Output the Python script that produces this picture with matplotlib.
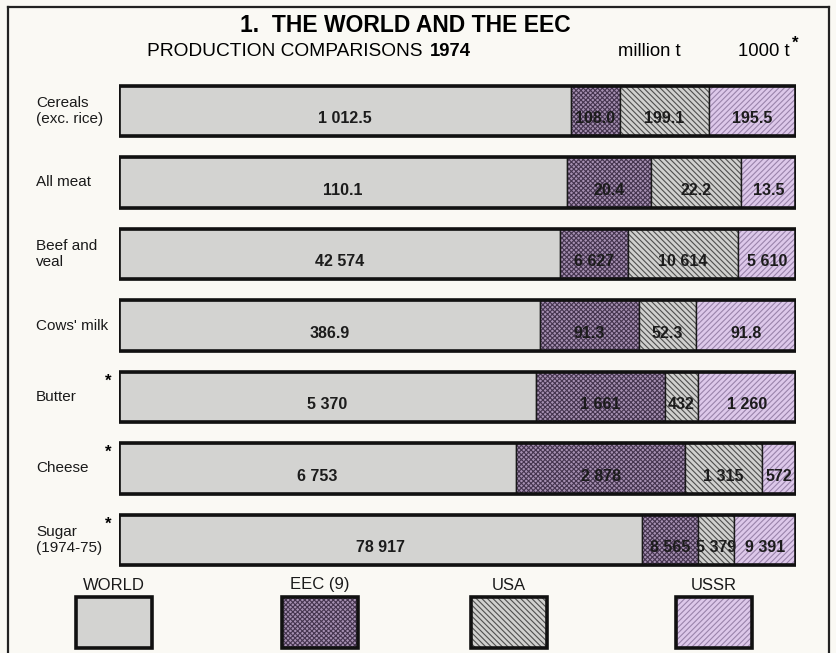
import matplotlib
matplotlib.use("Agg")
import matplotlib.pyplot as plt
from matplotlib.patches import Rectangle
from matplotlib.lines import Line2D
import numpy as np

# production 1974: cereals/meat/milk in million t, the starred rows in 1000 t
products = ["Cereals\n(exc. rice)", "All meat", "Beef and\nveal", "Cows' milk",
            "Butter", "Cheese", "Sugar\n(1974-75)"]
starred = [False, False, False, False, True, True, True]
world = [1012.5, 110.1, 42574, 386.9, 5370, 6753, 78917]
eec = [108.0, 20.4, 6627, 91.3, 1661, 2878, 8565]
usa = [199.1, 22.2, 10614, 52.3, 432, 1315, 5379]
ussr = [195.5, 13.5, 5610, 91.8, 1260, 572, 9391]

world_txt = ["1 012.5", "110.1", "42 574", "386.9", "5 370", "6 753", "78 917"]
eec_txt = ["108.0", "20.4", "6 627", "91.3", "1 661", "2 878", "8 565"]
usa_txt = ["199.1", "22.2", "10 614", "52.3", "432", "1 315", "5 379"]
ussr_txt = ["195.5", "13.5", "5 610", "91.8", "1 260", "572", "9 391"]

legend_names = ["WORLD", "EEC (9)", "USA", "USSR"]

# face colour, hatch colour, hatch pattern
styles = [
    ("#d3d3d1", "#d3d3d1", None),
    ("#a690b2", "#45354f", "xxxxxxx"),
    ("#d0d0ce", "#4f4f4f", "\\\\\\\\\\\\"),
    ("#ddc8ea", "#9a84ab", "//////"),
]

sans = dict(family=["Liberation Sans", "DejaVu Sans"])

plt.rcParams["hatch.linewidth"] = 0.8

W, H = 836, 653
fig = plt.figure(figsize=(W / 100, H / 100), dpi=100)
fig.patch.set_facecolor("#faf9f4")


def fx(px):
    return px / W


def fy(px):
    return 1 - px / H


# border of the panel
fig.add_artist(Line2D([fx(8), fx(8)], [fy(7), 0], color="#222", lw=1.6))
fig.add_artist(Line2D([fx(8), fx(829)], [fy(7), fy(7)], color="#222", lw=1.6))
fig.add_artist(Line2D([fx(829), fx(829)], [fy(7), 0], color="#222", lw=1.6))

fig.text(fx(405), fy(26), "1.  THE WORLD AND THE EEC", ha="center", va="center",
         fontsize=16.5, fontweight="bold", **sans)
fig.text(fx(147), fy(51), "PRODUCTION COMPARISONS", ha="left", va="center",
         fontsize=13.8, **sans)
fig.text(fx(430), fy(51), "1974", ha="left", va="center", fontsize=13.3,
         fontweight="bold", **sans)
fig.text(fx(649), fy(51), "million t", ha="center", va="center", fontsize=13.3, **sans)
fig.text(fx(764), fy(51), "1000 t", ha="center", va="center", fontsize=13.3, **sans)
fig.text(fx(795), fy(43), "*", ha="center", va="center", fontsize=12,
         fontweight="bold", **sans)

# bar area: row centres from y=111 to y=540 px, bars from x=119 to x=796 px
n = len(products)
pitch = (540 - 111) / (n - 1)
top = 111 - pitch / 2
bottom = 540 + pitch / 2
ax = fig.add_axes([fx(119), fy(bottom), fx(796) - fx(119), (bottom - top) / H])
ax.set_xlim(0, 1)
ax.set_ylim(n - 0.5, -0.5)
ax.axis("off")

series = [np.array(world, float), np.array(eec, float),
          np.array(usa, float), np.array(ussr, float)]
labels = [world_txt, eec_txt, usa_txt, ussr_txt]
total = sum(series)
y = np.arange(n)
bar_h = 0.7

left = np.zeros(n)
for vals, txt, (face, hcol, hatch) in zip(series, labels, styles):
    share = vals / total
    ax.barh(y, share, left=left, height=bar_h, color=face, edgecolor=hcol,
            hatch=hatch, linewidth=0)
    ax.barh(y, share, left=left, height=bar_h, fill=False, edgecolor="#1a1a1a",
            linewidth=1.0)
    for yi, l, s, t in zip(y, left, share, txt):
        ax.text(l + s / 2, yi + 0.11, t, ha="center", va="center", fontsize=11.5,
                fontweight="bold", color="#1c1c1c", **sans)
    left = left + share

# heavy outline round each row
ax.barh(y, np.ones(n), height=bar_h, fill=False, edgecolor="#111", linewidth=2.6)

# row names on the left
for yi, name, star in zip(y, products, starred):
    yc = 111 + yi * pitch
    fig.text(fx(36), fy(yc), name, ha="left", va="center", fontsize=11,
             linespacing=1.15, color="#1a1a1a", **sans)
    if star:
        fig.text(fx(108), fy(yc - 16), "*", ha="center", va="center",
                 fontsize=12, fontweight="bold", **sans)

# key along the bottom
key_x = [114, 320, 509, 714]
for cx, name, (face, hcol, hatch) in zip(key_x, legend_names, styles):
    fig.text(fx(cx), fy(585), name, ha="center", va="center", fontsize=12,
             color="#1a1a1a", **sans)
    fig.add_artist(Rectangle((fx(cx - 38), fy(648)), fx(76), 51 / H,
                             facecolor=face, edgecolor=hcol, hatch=hatch,
                             linewidth=0, transform=fig.transFigure))
    fig.add_artist(Rectangle((fx(cx - 38), fy(648)), fx(76), 51 / H,
                             fill=False, edgecolor="#111", linewidth=2.6,
                             transform=fig.transFigure))

fig.savefig("out.png", dpi=100, facecolor=fig.get_facecolor())
